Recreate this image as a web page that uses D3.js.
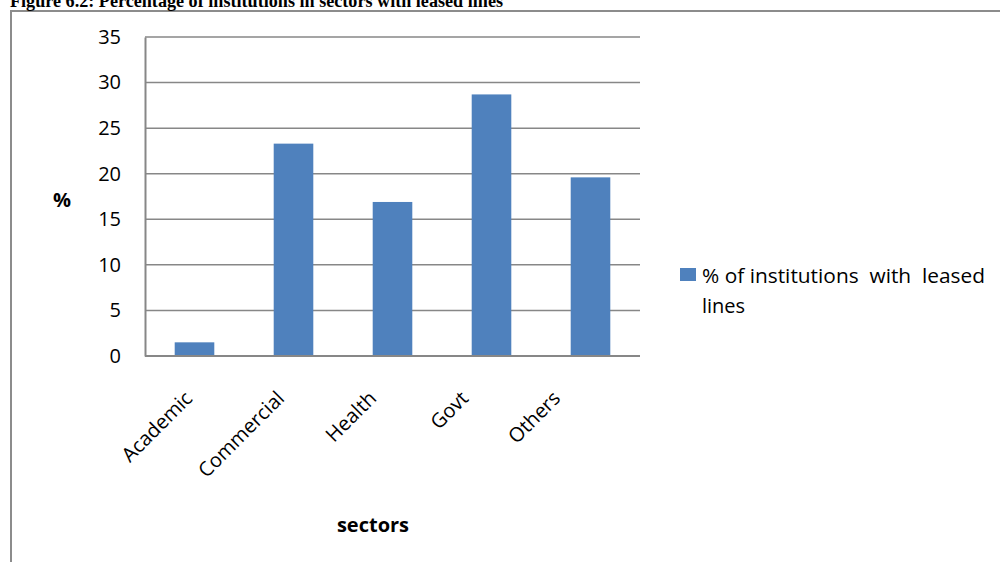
<!DOCTYPE html>
<html>
<head>
<meta charset="utf-8">
<script src="https://cdn.jsdelivr.net/npm/d3@7"></script>
<style>
  html, body { margin: 0; padding: 0; background: #fff; }
  svg { display: block; }
</style>
</head>
<body>
<svg id="chart" width="1000" height="562"></svg>
<script>
// Sector data: share of institutions with leased lines
const categories = ["Academic", "Commercial", "Health", "Govt", "Others"];
const values = [1.5, 23.3, 16.9, 28.7, 19.6];
const yTicks = [0, 5, 10, 15, 20, 25, 30, 35];
const seriesName = "% of institutions  with  leased";
const seriesNameLine2 = "lines";
const titleText = "Figure 6.2:  Percentage of institutions in sectors with leased lines";

const svg = d3.select("#chart");
const font = "'Open Sans', sans-serif";
const fontSize = 20;
const barColor = "#4f81bd";
const gridColor = "#878787";

// Outer frame of the chart object
svg.append("rect")
  .attr("x", 11).attr("y", 11)
  .attr("width", 1100).attr("height", 700)
  .attr("fill", "none")
  .attr("stroke", "#8c8c8c")
  .attr("stroke-width", 2);

// Caption above the frame (partly above the page edge)
svg.append("text")
  .attr("x", 10).attr("y", 7)
  .attr("font-family", "'Liberation Serif', 'Times New Roman', serif")
  .attr("font-weight", "bold")
  .attr("font-size", 18)
  .attr("textLength", 493)
  .attr("lengthAdjust", "spacingAndGlyphs")
  .text(titleText);

const plot = { left: 145, right: 640, top: 37, bottom: 356 };

const x = d3.scaleBand()
  .domain(categories)
  .range([plot.left, plot.right])
  .paddingInner(0.6)
  .paddingOuter(0.3);

// Anchor points for the slanted category labels
const xLabel = d3.scalePoint()
  .domain(categories)
  .range([183, 551]);

const y = d3.scaleLinear()
  .domain([0, 35])
  .range([plot.bottom, plot.top]);

// Horizontal gridlines
svg.append("g")
  .selectAll("line")
  .data(yTicks.filter(d => d > 0))
  .join("line")
  .attr("x1", plot.left).attr("x2", plot.right)
  .attr("y1", d => y(d)).attr("y2", d => y(d))
  .attr("stroke", gridColor)
  .attr("stroke-width", 1.5);

// Bars
svg.append("g")
  .selectAll("rect")
  .data(categories.map((c, i) => ({ c, v: values[i] })))
  .join("rect")
  .attr("x", d => x(d.c))
  .attr("width", x.bandwidth())
  .attr("y", d => y(d.v))
  .attr("height", d => y(0) - y(d.v))
  .attr("fill", barColor);

// Y axis
const yAxis = svg.append("g")
  .attr("transform", `translate(${plot.left},0)`)
  .call(d3.axisLeft(y).tickValues(yTicks).tickSize(0).tickPadding(24));
yAxis.select(".domain").attr("stroke", gridColor).attr("stroke-width", 2);
yAxis.selectAll("text")
  .attr("font-family", font)
  .attr("font-size", fontSize)
  .attr("fill", "#000");

// X axis line
svg.append("line")
  .attr("x1", plot.left).attr("x2", plot.right)
  .attr("y1", plot.bottom).attr("y2", plot.bottom)
  .attr("stroke", gridColor)
  .attr("stroke-width", 2);

// Slanted category labels
svg.append("g")
  .selectAll("text")
  .data(categories)
  .join("text")
  .attr("transform", d => `translate(${xLabel(d)},389) rotate(-45)`)
  .attr("text-anchor", "end")
  .attr("dy", "0.75em")
  .attr("font-family", font)
  .attr("font-size", fontSize)
  .attr("fill", "#000")
  .text(d => d);

// Axis titles
svg.append("text")
  .attr("x", 62).attr("y", 207)
  .attr("text-anchor", "middle")
  .attr("font-family", font)
  .attr("font-weight", "bold")
  .attr("font-size", fontSize)
  .text("%");

svg.append("text")
  .attr("x", 373).attr("y", 532)
  .attr("text-anchor", "middle")
  .attr("font-family", font)
  .attr("font-weight", "bold")
  .attr("font-size", fontSize)
  .text("sectors");

// Legend
const legend = svg.append("g").attr("transform", "translate(680,268)");
legend.append("rect")
  .attr("x", 0).attr("y", 0)
  .attr("width", 16).attr("height", 13)
  .attr("fill", barColor);
legend.append("text")
  .attr("x", 22).attr("y", 15)
  .attr("font-family", font)
  .attr("font-size", fontSize)
  .attr("textLength", 283)
  .attr("lengthAdjust", "spacingAndGlyphs")
  .style("white-space", "pre")
  .text(seriesName);
legend.append("text")
  .attr("x", 22).attr("y", 45)
  .attr("font-family", font)
  .attr("font-size", fontSize)
  .text(seriesNameLine2);
</script>
</body>
</html>
